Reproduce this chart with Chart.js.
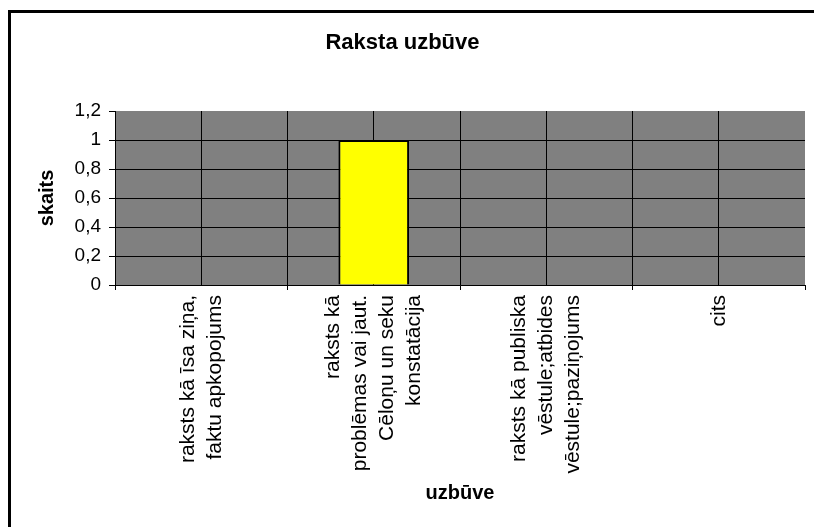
<!DOCTYPE html>
<html>
<head>
<meta charset="utf-8">
<script src="https://cdn.jsdelivr.net/npm/chart.js@4/dist/chart.umd.min.js"></script>
<style>
    html, body { margin: 0; padding: 0; background: #fff; overflow: hidden; }
    #wrap { position: relative; width: 814px; height: 527px; overflow: hidden; }
    #frame {
        position: absolute; left: 8px; top: 10px; width: 806px; height: 517px;
        border-left: 3px solid #000; border-top: 3px solid #000;
        box-sizing: border-box; pointer-events: none;
    }
</style>
</head>
<body>
<div id="wrap">
    <canvas id="chart"></canvas>
    <div id="frame"></div>
</div>
<script>
const chartTitle = 'Raksta uzbūve'
const xTitle = 'uzbūve'
const yTitle = 'skaits'

const categories = [
    ['raksts kā īsa ziņa,', 'faktu apkopojums'],
    ['raksts kā', 'problēmas vai jaut.', 'Cēloņu un seku', 'konstatācija'],
    ['raksts kā publiska', 'vēstule;atbides', 'vēstule;paziņojums'],
    ['cits']
]
const counts = [0, 1, 0, 0]

const yMin = 0
const yMax = 1.2
const yStep = 0.2

const fontFamily = "'Liberation Sans', Arial, sans-serif"
const halfLine = 13.5

// rotated multi-line labels grow to one side only, so pad them with
// blank half-lines to keep each block centred on its category
const maxLines = Math.max(...categories.map(c => c.length))
function centeredLabel(lines) {
    let out = []
    for (let i = 0; i < maxLines - lines.length; i++) out.push('')
    lines.forEach((line, i) => {
        if (i > 0) out.push('')
        out.push(line)
    })
    return out
}
const xLabels = categories.map(centeredLabel)

const plotBackground = {
    id: 'plotBackground',
    beforeDraw(chart) {
        const {ctx, chartArea} = chart
        ctx.save()
        ctx.fillStyle = '#808080'
        ctx.fillRect(chartArea.left, chartArea.top, chartArea.width, chartArea.height)
        ctx.restore()
    }
}

const ctx = document.getElementById('chart')

const chart = new Chart(ctx, {
    type: 'bar',
    data: {
        labels: xLabels,
        datasets: [{
            label: yTitle,
            data: counts,
            backgroundColor: '#ffff00',
            borderColor: '#000000',
            borderWidth: 2,
            categoryPercentage: 1,
            barPercentage: 0.41
        }]
    },
    options: {
        responsive: true,
        maintainAspectRatio: false,
        animation: false,
        layout: {
            padding: {left: 0, right: 9, top: 0, bottom: 0}
        },
        plugins: {
            legend: {display: false},
            tooltip: {enabled: false},
            title: {
                display: true,
                text: chartTitle,
                color: '#000',
                font: {family: fontFamily, size: 22, weight: 'bold'},
                padding: {top: 30, bottom: 54.6}
            }
        },
        scales: {
            x: {
                type: 'category',
                position: 'bottom',
                offset: true,
                grid: {
                    offset: true,
                    color: c => c.index === undefined ? 'rgba(0,0,0,0)' : '#000',
                    tickColor: '#000',
                    lineWidth: 1,
                    tickLength: 5
                },
                border: {display: true, color: '#000', width: 1},
                ticks: {
                    autoSkip: false,
                    minRotation: 90,
                    maxRotation: 90,
                    padding: 5,
                    labelOffset: -halfLine * (maxLines - 1),
                    color: '#000',
                    font: {family: fontFamily, size: 21, lineHeight: halfLine + 'px'}
                },
                title: {
                    display: true,
                    text: xTitle,
                    color: '#000',
                    font: {family: fontFamily, size: 20, weight: 'bold'},
                    padding: {top: 0, bottom: 22}
                },
                afterFit: axis => { axis.height = 242 }
            },
            x2: {
                type: 'category',
                position: 'top',
                labels: xLabels,
                offset: true,
                grid: {offset: false, color: '#000', lineWidth: 1, drawTicks: false},
                border: {display: false},
                ticks: {display: false}
            },
            y: {
                min: yMin,
                max: yMax,
                grid: {
                    color: c => c.tick && c.tick.value >= yMax ? 'rgba(0,0,0,0)' : '#000',
                    tickColor: '#000',
                    lineWidth: 1,
                    tickLength: 6
                },
                border: {display: true, color: '#000', width: 1},
                ticks: {
                    stepSize: yStep,
                    padding: 8,
                    color: '#000',
                    font: {family: fontFamily, size: 19},
                    callback: v => (Math.round(v * 10) / 10).toString().replace('.', ',')
                },
                title: {
                    display: true,
                    text: yTitle,
                    color: '#000',
                    font: {family: fontFamily, size: 20, weight: 'bold'},
                    padding: {top: 35, bottom: 0}
                },
                afterFit: axis => { axis.width = 115 }
            }
        }
    },
    plugins: [plotBackground]
})
</script>
</body>
</html>
